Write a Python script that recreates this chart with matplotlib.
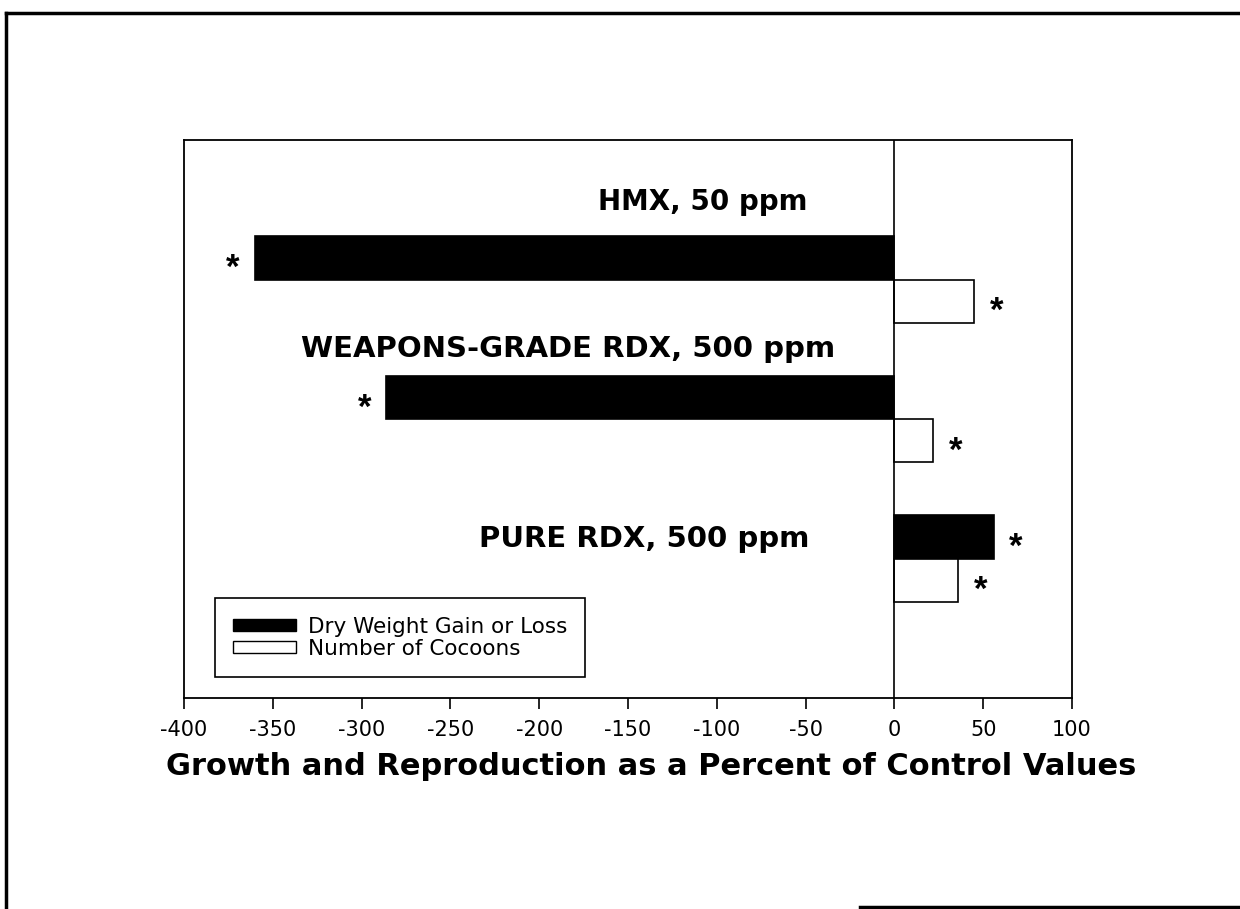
import matplotlib
matplotlib.use("Agg")
import matplotlib.pyplot as plt
from matplotlib.patches import Patch
from matplotlib.lines import Line2D
import numpy as np

# ---- data ----
categories = ["PURE RDX, 500 ppm", "WEAPONS-GRADE RDX, 500 ppm", "HMX, 50 ppm"]
dry_weight = [56, -286, -360]
cocoons = [36, 22, 45]
dry_sig = [True, True, True]
cocoon_sig = [True, True, True]
series_names = ["Dry Weight Gain or Loss", "Number of Cocoons"]
xticks = [-400, -350, -300, -250, -200, -150, -100, -50, 0, 50, 100]
xlabel = "Growth and Reproduction as a Percent of Control Values"

plt.rcParams['font.family'] = ['DejaVu Sans']

W, H = 1240, 909
fig = plt.figure(figsize=(W / 100, H / 100), dpi=100)
fig.patch.set_facecolor("white")

ax = fig.add_axes([184 / W, 211 / H, (1072 - 184) / W, (769 - 211) / H])

pos = np.arange(len(categories))
h = 0.31
b1 = ax.barh(pos + h / 2, dry_weight, height=h, color="black", edgecolor="black", linewidth=1.2)
b2 = ax.barh(pos - h / 2, cocoons, height=h, color="white", edgecolor="black", linewidth=1.2)

ax.set_xlim(-400, 100)
ax.set_ylim(-1, 3)
ax.axvline(0, color="black", linewidth=1.2)

ax.set_xticks(xticks)
ax.set_xticklabels([str(t) for t in xticks], fontsize=15)
ax.tick_params(axis="x", direction="out", length=8, width=1.2, pad=8)
ax.set_yticks([])
for s in ax.spines.values():
    s.set_linewidth(1.3)

# significance asterisks
for bars, sigs in ((b1, dry_sig), (b2, cocoon_sig)):
    for bar, sig in zip(bars, sigs):
        if not sig:
            continue
        w = bar.get_width()
        yc = bar.get_y() + bar.get_height() / 2
        dx = 22 if w >= 0 else -22
        ax.annotate("*", xy=(w, yc), xytext=(dx, -20), textcoords="offset pixels",
                    ha="center", va="baseline", fontsize=25, fontweight="bold",
                    family="Liberation Sans")

# category labels
label_pos = {0: (-48, 0.082), 1: (-33.5, 1.444), 2: (-48.7, 2.498)}
label_size = {0: 21, 1: 21, 2: 20}
for i, cat in enumerate(categories):
    x, y = label_pos[i]
    ax.text(x, y, cat, ha="right", va="baseline", fontsize=label_size[i], fontweight="bold")

# legend
handles = [Patch(facecolor="black", edgecolor="black", linewidth=1.0),
           Patch(facecolor="white", edgecolor="black", linewidth=1.0)]
leg = ax.legend(handles, series_names, loc="lower left",
                bbox_to_anchor=((215 - 184) / 888, (698 - 677) / 558),
                fontsize=15.5, frameon=True, fancybox=False, framealpha=1,
                edgecolor="black", handlelength=2.9, handleheight=0.52,
                labelspacing=0.1, handletextpad=0.55, borderpad=0.85,
                borderaxespad=0)
leg.get_frame().set_linewidth(1.2)

# x label
fig.text(651 / W, (H - 775) / H, xlabel, ha="center", va="baseline",
         fontsize=22, fontweight="bold")

# outer page frame (scanned border)
fig.add_artist(Line2D([6 / W, 6 / W], [0, (H - 13) / H], transform=fig.transFigure,
                      color="black", linewidth=2.5))
fig.add_artist(Line2D([6 / W, 1], [(H - 13) / H, (H - 13) / H], transform=fig.transFigure,
                      color="black", linewidth=2.5))
fig.add_artist(Line2D([860 / W, 1], [2 / H, 2 / H], transform=fig.transFigure,
                      color="black", linewidth=2.5))

fig.savefig("out.png", dpi=100, facecolor="white")
